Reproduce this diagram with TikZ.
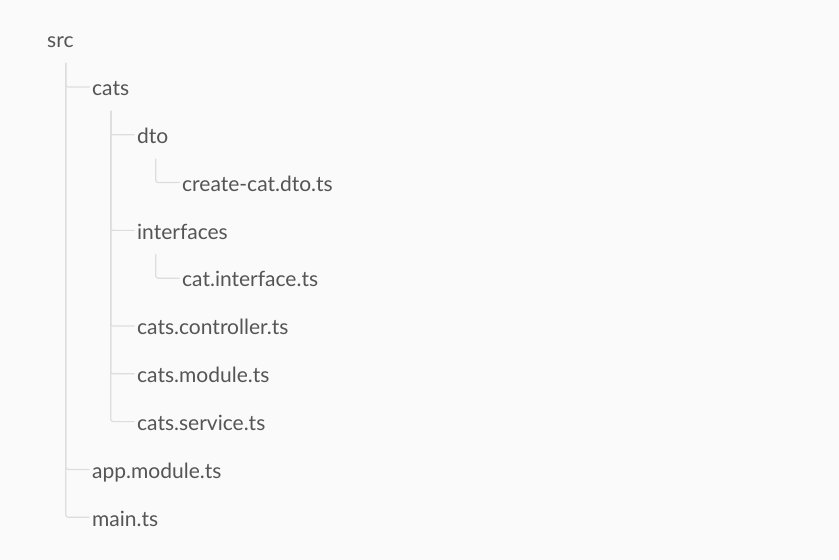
\documentclass[tikz,border=0pt]{standalone}
\usepackage{fontspec}
\setmainfont{Lato}
\begin{document}
\begin{tikzpicture}[x=1bp,y=-1bp,
  item/.style={anchor=base west,inner sep=0pt,text=textgray,
    font=\fontsize{21bp}{25bp}\selectfont},
  conn/.style={draw=linegray,line width=1.2bp,rounded corners=2.5bp}]
\definecolor{bggray}{HTML}{FAFAFA}
\definecolor{textgray}{HTML}{555555}
\definecolor{linegray}{HTML}{DDDDDD}
% canvas
\fill[bggray] (0,0) rectangle (839,560);
\useasboundingbox (0,0) rectangle (839,560);
% tree entries: left edges 47/92/137/182, baselines every 47.8
\node[item] (src)  at (47,48.0)  {src};
\node[item] (cats) at (92,95.8)  {cats};
\node[item] (dto)  at (137,143.6) {dto};
\node[item] (cdto) at (182,191.4) {create-cat.dto.ts};
\node[item] (ifc)  at (137,239.2) {interfaces};
\node[item] (cifc) at (182,287.0) {cat.interface.ts};
\node[item] (ctrl) at (137,334.8) {cats.controller.ts};
\node[item] (cmod) at (137,382.6) {cats.module.ts};
\node[item] (csvc) at (137,430.4) {cats.service.ts};
\node[item] (amod) at (92,478.2)  {app.module.ts};
\node[item] (mts)  at (92,526.0)  {main.ts};
% branch lines: down from below the parent, across to the child
\foreach \p/\c in {src/cats,src/amod,src/mts,
                   cats/dto,cats/ifc,cats/ctrl,cats/cmod,cats/csvc,
                   dto/cdto,ifc/cifc}
  \draw[conn] ([xshift=18.7bp,yshift=-15bp]\p.base west)
     |- ([xshift=-2.5bp,yshift=8.8bp]\c.base west);
\end{tikzpicture}
\end{document}
